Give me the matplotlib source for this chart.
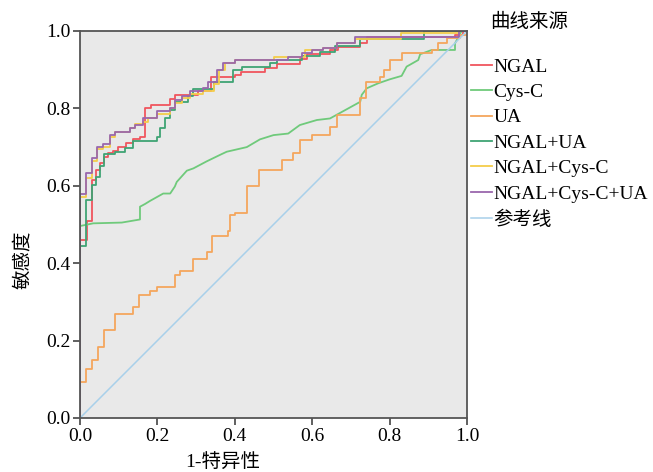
import matplotlib
matplotlib.use("Agg")
import matplotlib.pyplot as plt

plt.rcParams['font.family'] = ['Liberation Serif', 'Noto Sans CJK SC']
plt.rcParams['axes.unicode_minus'] = False

# ROC curve points (1-specificity, sensitivity); steps drawn "post"
ngal_x = [0, 0, 0.017, 0.03, 0.041, 0.052, 0.063, 0.073, 0.086, 0.099, 0.12, 0.138, 0.155, 0.168, 0.183,
          0.233, 0.245, 0.306, 0.338, 0.40, 0.416, 0.478, 0.508, 0.568, 0.586, 0.646, 0.667, 0.724, 0.741,
          0.97, 0.99, 1.0]
ngal_y = [0, 0.46, 0.51, 0.615, 0.64, 0.66, 0.675, 0.685, 0.69, 0.70, 0.71, 0.72, 0.727, 0.80, 0.809,
          0.824, 0.835, 0.844, 0.882, 0.886, 0.893, 0.904, 0.915, 0.927, 0.94, 0.95, 0.959, 0.97, 0.984,
          0.99, 1.0, 1.0]

cysc_x = [0, 0, 0.034, 0.108, 0.155, 0.155, 0.168, 0.181, 0.215, 0.233, 0.245, 0.25, 0.276, 0.293, 0.327,
          0.362, 0.379, 0.431, 0.465, 0.50, 0.538, 0.568, 0.612, 0.646, 0.724, 0.728, 0.741, 0.771, 0.80,
          0.831, 0.844, 0.874, 0.879, 0.909, 0.969, 0.969, 0.986, 1.0]
cysc_y = [0, 0.496, 0.503, 0.505, 0.513, 0.546, 0.553, 0.561, 0.58, 0.58, 0.598, 0.61, 0.639, 0.645, 0.663,
          0.68, 0.688, 0.70, 0.72, 0.731, 0.735, 0.757, 0.77, 0.774, 0.817, 0.835, 0.852, 0.865, 0.875,
          0.884, 0.908, 0.925, 0.94, 0.951, 0.951, 0.968, 1.0, 1.0]

ua_x = [0, 0, 0.016, 0.03, 0.046, 0.063, 0.09, 0.138, 0.153, 0.181, 0.198, 0.245, 0.258, 0.291, 0.327,
        0.34, 0.383, 0.388, 0.40, 0.431, 0.463, 0.521, 0.551, 0.568, 0.599, 0.646, 0.663, 0.724, 0.739,
        0.775, 0.786, 0.80, 0.831, 0.909, 0.926, 0.948, 0.982, 1.0]
ua_y = [0, 0.092, 0.126, 0.15, 0.184, 0.227, 0.268, 0.286, 0.318, 0.329, 0.338, 0.37, 0.38, 0.412, 0.43,
        0.471, 0.482, 0.525, 0.531, 0.60, 0.641, 0.667, 0.684, 0.719, 0.731, 0.753, 0.783, 0.826, 0.869,
        0.88, 0.90, 0.924, 0.942, 0.951, 0.968, 0.982, 0.99, 1.0]

ngal_ua_x = [0, 0, 0.015, 0.03, 0.041, 0.052, 0.063, 0.09, 0.116, 0.138, 0.198, 0.207, 0.22, 0.233, 0.245,
             0.28, 0.293, 0.345, 0.396, 0.418, 0.491, 0.508, 0.573, 0.62, 0.66, 0.724, 0.89, 1.0]
ngal_ua_y = [0, 0.445, 0.563, 0.602, 0.624, 0.65, 0.682, 0.688, 0.697, 0.715, 0.727, 0.749, 0.774, 0.796,
             0.817, 0.831, 0.849, 0.869, 0.90, 0.908, 0.917, 0.925, 0.935, 0.945, 0.96, 0.98, 1.0, 1.0]

ngal_cysc_x = [0, 0, 0.016, 0.03, 0.043, 0.06, 0.078, 0.09, 0.129, 0.142, 0.164, 0.175, 0.198, 0.233, 0.245,
               0.263, 0.284, 0.319, 0.345, 0.36, 0.375, 0.40, 0.50, 0.581, 0.628, 0.663, 0.711, 0.83, 0.98, 1.0]
ngal_cysc_y = [0, 0.57, 0.62, 0.665, 0.695, 0.70, 0.725, 0.74, 0.749, 0.76, 0.765, 0.774, 0.785, 0.80, 0.815,
               0.826, 0.838, 0.845, 0.862, 0.90, 0.918, 0.925, 0.934, 0.951, 0.955, 0.968, 0.98, 0.994, 1.0, 1.0]

all3_x = [0, 0, 0.016, 0.03, 0.043, 0.06, 0.078, 0.09, 0.129, 0.142, 0.164, 0.198, 0.233, 0.245, 0.263,
          0.284, 0.319, 0.332, 0.353, 0.37, 0.40, 0.538, 0.573, 0.599, 0.628, 0.663, 0.711, 0.98, 1.0]
all3_y = [0, 0.58, 0.632, 0.673, 0.70, 0.708, 0.731, 0.74, 0.749, 0.757, 0.774, 0.792, 0.80, 0.821, 0.831,
          0.844, 0.852, 0.869, 0.90, 0.918, 0.925, 0.932, 0.942, 0.951, 0.955, 0.968, 0.984, 1.0, 1.0]

ref_x = [0, 1]
ref_y = [0, 1]

labels = ['NGAL', 'Cys-C', 'UA', 'NGAL+UA', 'NGAL+Cys-C', 'NGAL+Cys-C+UA', '参考线']
colors = ['#f0555e', '#6fca7b', '#f5a65d', '#3fa474', '#f4cd4a', '#9a67ad', '#a8d0ea']

fig = plt.figure(figsize=(6.53, 4.72), dpi=100)
ax = fig.add_axes([80 / 653, 54 / 472, 387 / 653, 387 / 472])
ax.set_facecolor('#e9e9e9')

lw = 1.3
ax.plot(ngal_x, ngal_y, drawstyle='steps-post', color=colors[0], lw=lw, label=labels[0])
ax.plot(cysc_x, cysc_y, color=colors[1], lw=lw, label=labels[1])
ax.plot(ua_x, ua_y, drawstyle='steps-post', color=colors[2], lw=lw, label=labels[2])
ax.plot(ngal_ua_x, ngal_ua_y, drawstyle='steps-post', color=colors[3], lw=lw, label=labels[3])
ax.plot(ngal_cysc_x, ngal_cysc_y, drawstyle='steps-post', color=colors[4], lw=lw, label=labels[4])
ax.plot(all3_x, all3_y, drawstyle='steps-post', color=colors[5], lw=lw, label=labels[5])
ax.plot(ref_x, ref_y, color=colors[6], lw=1.1, label=labels[6])

ax.set_xlim(0, 1)
ax.set_ylim(0, 1)
ticks = [0.0, 0.2, 0.4, 0.6, 0.8, 1.0]
ax.set_xticks(ticks)
ax.set_yticks(ticks)
ax.set_xticklabels(['%.1f' % t for t in ticks])
ax.set_yticklabels(['%.1f' % t for t in ticks])
ax.tick_params(direction='out', length=5, width=1.2, labelsize=14, color='#444444', pad=2)
for s in ax.spines.values():
    s.set_color('#555555')
    s.set_linewidth(1.3)

ax.set_xlabel('1-特异性', fontsize=14)
ax.xaxis.set_label_coords(0.37, -0.092)
ax.set_ylabel('敏感度', fontsize=14)
ax.yaxis.set_label_coords(-0.125, 0.41)

leg = ax.legend(loc='upper left', bbox_to_anchor=(1.01, 0.93), frameon=False, fontsize=14,
                handlelength=1.1, handletextpad=0.05, labelspacing=0.4, borderaxespad=0,
                borderpad=0)
ax.text(1.06, 1.023, '曲线来源', transform=ax.transAxes, fontsize=14, va='center', ha='left')

fig.savefig('out.png', dpi=100)
